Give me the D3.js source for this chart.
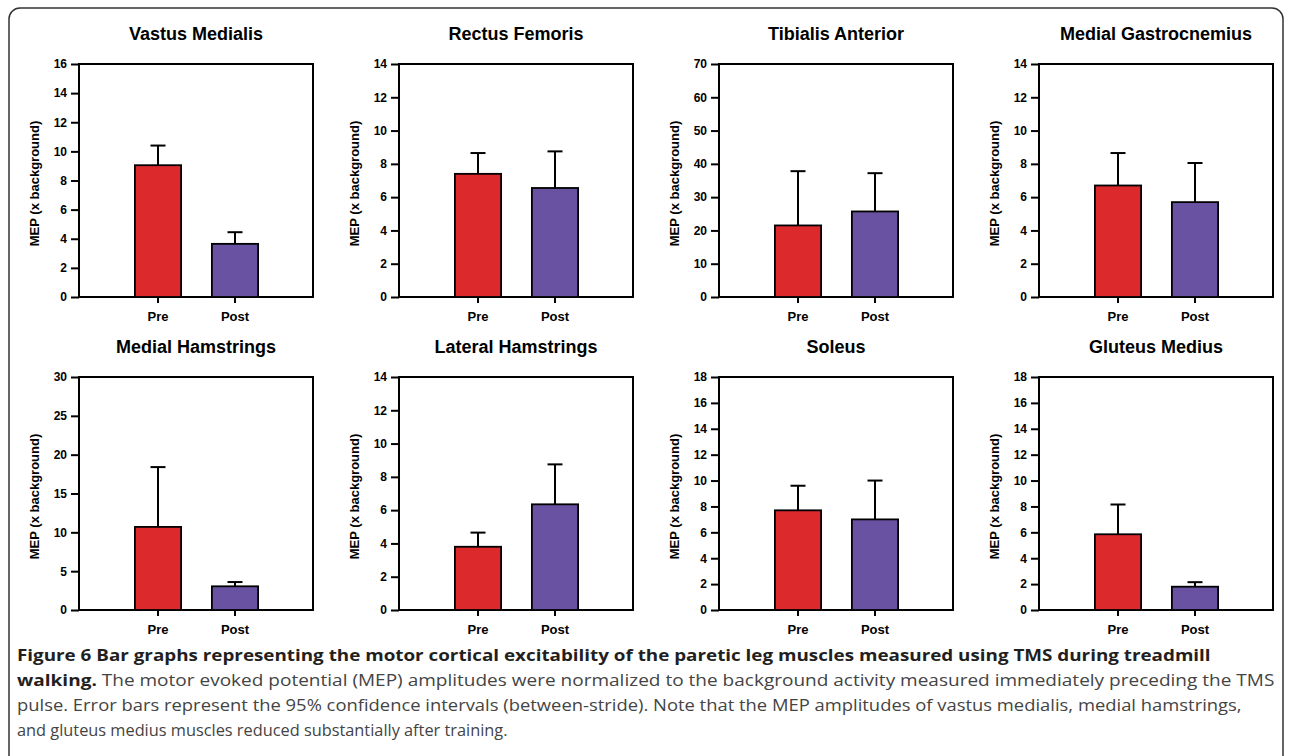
<!DOCTYPE html>
<html>
<head>
<meta charset="utf-8">
<script src="https://cdn.jsdelivr.net/npm/d3@7"></script>
<style>
  html, body { margin: 0; padding: 0; background: #fff; }
  svg { display: block; }
</style>
</head>
<body>
<svg id="fig" width="1292" height="756"></svg>
<script>
// muscles, in panel order (row by row)
const muscles = ['Vastus Medialis', 'Rectus Femoris', 'Tibialis Anterior', 'Medial Gastrocnemius',
  'Medial Hamstrings', 'Lateral Hamstrings', 'Soleus', 'Gluteus Medius'];
const groups = ['Pre', 'Post'];

// mean MEP (x background) and upper end of the 95% CI
const preMean = [9.05, 7.4, 21.5, 6.7, 10.7, 3.8, 7.7, 5.85];
const preUpper = [10.4, 8.65, 37.8, 8.65, 18.4, 4.65, 9.6, 8.15];
const postMean = [3.65, 6.55, 25.7, 5.7, 3.05, 6.35, 7.0, 1.8];
const postUpper = [4.45, 8.75, 37.2, 8.05, 3.6, 8.75, 10.0, 2.15];

// y axis max and tick step per panel
const yMax = [16, 14, 70, 14, 30, 14, 18, 18];
const yStep = [2, 2, 10, 2, 5, 2, 2, 2];

const captionBold1 = 'Figure 6 Bar graphs representing the motor cortical excitability of the paretic leg muscles measured using TMS during treadmill';
const captionBold2 = 'walking.';
const captionLines = [
  ' The motor evoked potential (MEP) amplitudes were normalized to the background activity measured immediately preceding the TMS',
  'pulse. Error bars represent the 95% confidence intervals (between-stride). Note that the MEP amplitudes of vastus medialis, medial hamstrings,',
  'and gluteus medius muscles reduced substantially after training.'
];

const colors = { Pre: '#dc2a2c', Post: '#6a52a2' };
const font = '"Liberation Sans", Arial, sans-serif';

const svg = d3.select('#fig');

// outer frame
svg.append('rect')
  .attr('x', 9).attr('y', 8)
  .attr('width', 1274).attr('height', 760)
  .attr('rx', 11)
  .attr('fill', 'none')
  .attr('stroke', '#333')
  .attr('stroke-width', 1.5);

const panelW = 234;
const panelH = 233;
const colX = [79, 399, 719, 1039];
const rowY = [64, 377];

muscles.forEach((name, i) => {
  const col = i % 4;
  const row = Math.floor(i / 4);
  const g = svg.append('g')
    .attr('transform', `translate(${colX[col]},${rowY[row]})`);

  const x = d3.scaleBand()
    .domain(groups)
    .range([40.5, 194.5])
    .paddingInner(0.4)
    .paddingOuter(0.2);

  const y = d3.scaleLinear()
    .domain([0, yMax[i]])
    .range([panelH, 0]);

  const data = [
    { group: 'Pre', mean: preMean[i], upper: preUpper[i] },
    { group: 'Post', mean: postMean[i], upper: postUpper[i] }
  ];

  // frame
  g.append('rect')
    .attr('width', panelW).attr('height', panelH)
    .attr('fill', 'none')
    .attr('stroke', '#000')
    .attr('stroke-width', 2);

  // error bars (drawn first so the bar covers the lower part)
  const cap = 15;
  const err = g.selectAll('.err').data(data).enter().append('g').attr('class', 'err');
  err.append('line')
    .attr('x1', d => x(d.group) + x.bandwidth() / 2)
    .attr('x2', d => x(d.group) + x.bandwidth() / 2)
    .attr('y1', d => y(d.mean))
    .attr('y2', d => y(d.upper))
    .attr('stroke', '#000').attr('stroke-width', 2);
  err.append('line')
    .attr('x1', d => x(d.group) + x.bandwidth() / 2 - cap / 2)
    .attr('x2', d => x(d.group) + x.bandwidth() / 2 + cap / 2)
    .attr('y1', d => y(d.upper))
    .attr('y2', d => y(d.upper))
    .attr('stroke', '#000').attr('stroke-width', 2);

  g.selectAll('.bar').data(data).enter().append('rect')
    .attr('class', 'bar')
    .attr('x', d => x(d.group))
    .attr('width', x.bandwidth())
    .attr('y', d => y(d.mean))
    .attr('height', d => y(0) - y(d.mean))
    .attr('fill', d => colors[d.group])
    .attr('stroke', '#000')
    .attr('stroke-width', 1.8);

  // axes
  const yAxis = d3.axisLeft(y)
    .tickValues(d3.range(0, yMax[i] + 0.001, yStep[i]))
    .tickSize(8)
    .tickPadding(4)
    .tickFormat(d3.format('d'));
  const ya = g.append('g').call(yAxis);
  ya.select('.domain').remove();
  ya.selectAll('line').attr('stroke', '#000').attr('stroke-width', 2);
  ya.selectAll('text')
    .attr('font-family', font).attr('font-weight', 'bold')
    .attr('font-size', 12).attr('fill', '#000');

  const xAxis = d3.axisBottom(x).tickSize(6).tickPadding(9);
  const xa = g.append('g').attr('transform', `translate(0,${panelH})`).call(xAxis);
  xa.select('.domain').remove();
  xa.selectAll('line').attr('stroke', '#000').attr('stroke-width', 2);
  xa.selectAll('text')
    .attr('font-family', font).attr('font-weight', 'bold')
    .attr('font-size', 13).attr('fill', '#000');

  // title
  g.append('text')
    .attr('x', panelW / 2)
    .attr('y', -24)
    .attr('text-anchor', 'middle')
    .attr('font-family', font).attr('font-weight', 'bold')
    .attr('font-size', 18).attr('fill', '#000')
    .text(name);

  // y label
  g.append('text')
    .attr('transform', `translate(-40,${panelH / 2 + 3}) rotate(-90)`)
    .attr('text-anchor', 'middle')
    .attr('font-family', font).attr('font-weight', 'bold')
    .attr('font-size', 13).attr('fill', '#000')
    .text('MEP (x background)');
});

// caption, each line squeezed to the width it has in the figure
const capFont = '"Open Sans", "Noto Sans", sans-serif';
const capX = 17;
const capBase = [661, 686, 711, 736];
const capEnd = [1212, 1275, 1242, 508];

function captionLine(k, parts) {
  const t = svg.append('text')
    .attr('x', 0).attr('y', 0)
    .attr('font-family', capFont)
    .attr('font-size', 16.5)
    .attr('xml:space', 'preserve');
  parts.forEach(p => {
    t.append('tspan')
      .attr('font-weight', p.bold ? 'bold' : 'normal')
      .attr('fill', p.bold ? '#231f20' : '#444')
      .text(p.text);
  });
  const w = t.node().getComputedTextLength();
  const s = (capEnd[k] - capX) / w;
  t.attr('transform', `translate(${capX},${capBase[k]}) scale(${s},1)`);
}

captionLine(0, [{ text: captionBold1, bold: true }]);
captionLine(1, [{ text: captionBold2, bold: true }, { text: captionLines[0], bold: false }]);
captionLine(2, [{ text: captionLines[1], bold: false }]);
captionLine(3, [{ text: captionLines[2], bold: false }]);
</script>
</body>
</html>
